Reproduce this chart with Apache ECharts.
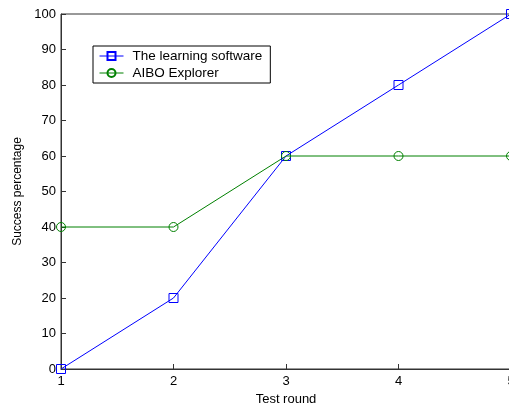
<!DOCTYPE html>
<html><head><meta charset="utf-8">
<script src="https://cdn.jsdelivr.net/npm/echarts@6/dist/echarts.min.js"></script>
<style>html,body{margin:0;padding:0;background:#fff}#c{width:509px;height:407px}</style>
</head><body><div id="c"></div>
<script>
const rounds = [1, 2, 3, 4, 5];
const learning = [0, 20, 60, 80, 100];
const aibo = [40, 40, 60, 60, 60];
const seriesNames = ['The learning software', 'AIBO Explorer'];

const chart = echarts.init(document.getElementById('c'));
const font = 'Liberation Sans, Arial, sans-serif';
chart.setOption({
  animation: false,
  backgroundColor: '#fff',
  grid: { left: 61, width: 450, top: 14, height: 355, outerBoundsMode: 'none', containLabel: false,
    show: true, borderColor: '#333', borderWidth: 1, backgroundColor: 'transparent' },
  legend: {
    left: 93, top: 46, orient: 'vertical', itemGap: 3, itemWidth: 24, itemHeight: 10,
    borderColor: '#000', borderWidth: 1, padding: [3, 8, 3, 6],
    textStyle: { fontFamily: font, fontSize: 13.5, color: '#000', padding: [0, 0, 0, 4] },
    lineStyle: { width: 1 },
    data: seriesNames
  },
  xAxis: {
    type: 'value', min: 1, max: 5, interval: 1, name: 'Test round', nameLocation: 'middle', nameGap: 24,
    nameTextStyle: { fontFamily: font, fontSize: 13, color: '#000' },
    axisLine: { lineStyle: { color: '#333' } },
    axisTick: { inside: true, length: 5, lineStyle: { color: '#333' } },
    axisLabel: { fontFamily: font, fontSize: 13, color: '#000', margin: 6 },
    splitLine: { show: false }
  },
  yAxis: {
    type: 'value', min: 0, max: 100, interval: 10, name: 'Success percentage', nameLocation: 'middle', nameGap: 36,
    nameTextStyle: { fontFamily: font, fontSize: 12, color: '#000' },
    axisLine: { show: true, lineStyle: { color: '#333' } },
    axisTick: { show: true, inside: true, length: 5, lineStyle: { color: '#333' } },
    axisLabel: { fontFamily: font, fontSize: 13, color: '#000', margin: 5 },
    splitLine: { show: false }
  },
  series: [
    { name: seriesNames[0], type: 'line', data: rounds.map((r, i) => [r, learning[i]]),
      symbol: 'rect', symbolSize: 9, clip: false, color: '#0000ff',
      lineStyle: { color: '#0000ff', width: 1 },
      itemStyle: { color: 'rgba(255,255,255,0)', borderColor: '#0000ff', borderWidth: 1 } },
    { name: seriesNames[1], type: 'line', data: rounds.map((r, i) => [r, aibo[i]]),
      symbol: 'circle', symbolSize: 9, clip: false, color: '#008000',
      lineStyle: { color: '#008000', width: 1 },
      itemStyle: { color: 'rgba(255,255,255,0)', borderColor: '#008000', borderWidth: 1 } }
  ]
});
</script></body></html>
